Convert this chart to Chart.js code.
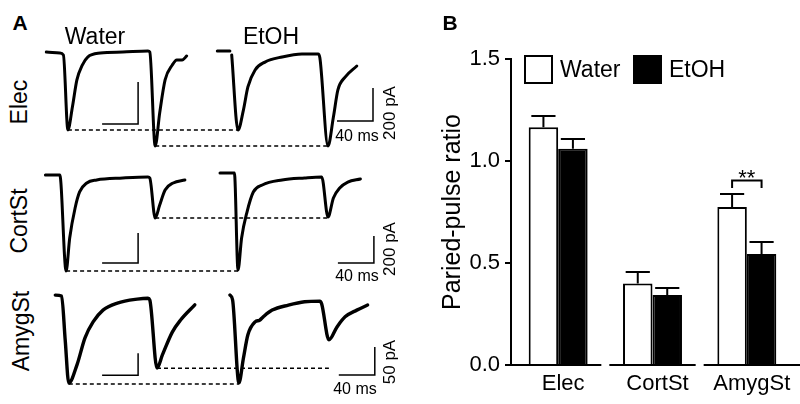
<!DOCTYPE html>
<html><head><meta charset="utf-8">
<script src="https://cdn.jsdelivr.net/npm/chart.js@4.4.1/dist/chart.umd.min.js"></script>
<style>
html,body{margin:0;padding:0;background:#fff;}
#wrap{position:relative;width:800px;height:404px;overflow:hidden;font-family:"Liberation Sans",Arial,sans-serif;color:#000;background:#fff;}
canvas{position:absolute;}
.t{position:absolute;transform:translate(-50%,-50%);line-height:1;white-space:nowrap;}
.r{transform:translate(-50%,-50%) rotate(-90deg);}
.b{font-weight:bold;}
</style></head><body>
<div id="wrap">
  <canvas id="rowElec" width="360" height="112" style="left:40px;top:40px"></canvas>
  <canvas id="rowCort" width="360" height="120" style="left:40px;top:160px"></canvas>
  <canvas id="rowAmyg" width="360" height="112" style="left:40px;top:284px"></canvas>
  <canvas id="pprChart" width="380" height="404" style="left:420px;top:0px"></canvas>

  <div class="t b" style="left:20px;top:22px;font-size:21px">A</div>
  <div class="t b" style="left:450px;top:22px;font-size:21px">B</div>
  <div class="t" style="left:95px;top:36px;font-size:23px">Water</div>
  <div class="t" style="left:271px;top:36px;font-size:23px">EtOH</div>
  <div class="t r" style="left:19px;top:102px;font-size:23px">Elec</div>
  <div class="t r" style="left:19px;top:221px;font-size:23px">CortSt</div>
  <div class="t r" style="left:21px;top:331px;font-size:23px">AmygSt</div>
  <div class="t" style="left:357px;top:136px;font-size:16px">40 ms</div>
  <div class="t" style="left:357px;top:276px;font-size:16px">40 ms</div>
  <div class="t" style="left:355px;top:389px;font-size:16px">40 ms</div>
  <div class="t r" style="left:389px;top:113px;font-size:17px">200 pA</div>
  <div class="t r" style="left:389px;top:249px;font-size:17px">200 pA</div>
  <div class="t r" style="left:389px;top:362px;font-size:17px">50 pA</div>
</div>
<script>
const FONT = '"Liberation Sans", Arial, sans-serif';

// ---------- Panel A: traces (time in ms, current in pA relative to baseline) ----------
const elecWaterT = [7,22,26,31,36,41,47,53,67,92,120,122,128,133,139,147,152,158,163];
const elecWaterI = [0,-5,-14,-371,-262,-133,-62,-24,-5,0,5,0,-448,-290,-133,-62,-38,-38,-19];
const elecEtohT  = [197,211,212,213,220,226,231,239,250,269,291,309,311,320,326,331,339,352];
const elecEtohI  = [6,6,null,-18,-473,-352,-212,-109,-61,-30,-12,-12,-36,-570,-394,-230,-152,-85];

const cortWaterT = [6,22,29,33,39,44,52,63,92,120,122,128,133,139,148,161];
const cortWaterI = [0,0,-640,-420,-220,-113,-53,-33,-20,-13,-20,-287,-200,-100,-53,-33];
const cortEtohT  = [200,216,220,224,230,237,247,269,294,313,320,326,333,342,356];
const cortEtohI  = [0,0,-719,-481,-289,-141,-89,-52,-37,-30,-326,-185,-111,-67,-44];

const amygWaterT = [17,24,28,32,41,50,59,70,86,108,120,122,130,136,147,156,172];
const amygWaterI = [2,0,-100,-198,-157,-95,-59,-32,-16,-7,-5,-9,-164,-134,-82,-55,-20];
const amygEtohT  = [211,214,221,226,231,239,244,248,258,276,294,311,313,321,330,339,352,364];
const amygEtohI  = [0,-9,-157,-113,-71,-48,-45,-39,-27,-18,-12,-11,-16,-80,-57,-39,-27,-18];

// peak reference lines: [t start, t end, level pA (Water scale)]
const elecDash = [[31,220,-371],[128,320,-448]];
const cortDash = [[29,220,-640],[128,320,-287]];
const amygDash = [[32,221,-200],[130,321,-164]];

// scale bars
const scaleBarMs = 40;
const elecBarPA = 200, cortBarPA = 200, amygBarPA = 50;

// ---------- Panel B: paired-pulse ratio ----------
const categories = ['Elec','CortSt','AmygSt'];
const waterPPR = [1.165, 0.40, 0.775];
const waterSEM = [0.055, 0.056, 0.063];
const etohPPR  = [1.06, 0.343, 0.544];
const etohSEM  = [0.048, 0.035, 0.059];
const yTicks = [0, 0.5, 1.0, 1.5];
const sigIndex = 2;
const sigLevel = [0.868, 0.905];
const sigText = '**';

// ---------- layout (positions only) ----------
const rows = [
  {id:'rowElec', top:40,  h:112, baseW:52,  baseE:52,  kW:42/200, kE:33/200,
   tW:elecWaterT, iW:elecWaterI, tE:elecEtohT, iE:elecEtohI, dash:elecDash, barPA:elecBarPA,
   cornerW:[109,-343], cornerE:[370,-418], lw:3},
  {id:'rowCort', top:160, h:120, baseW:175, baseE:173, kW:30/200, kE:27/200,
   tW:cortWaterT, iW:cortWaterI, tE:cortEtohT, iE:cortEtohI, dash:cortDash, barPA:cortBarPA,
   cornerW:[109,-587], cornerE:[371,-667], lw:3},
  {id:'rowAmyg', top:284, h:112, baseW:296, baseE:295, kW:22/50, kE:28/50,
   tW:amygWaterT, iW:amygWaterI, tE:amygEtohT, iE:amygEtohI, dash:amygDash, barPA:amygBarPA,
   cornerW:[109,-180], cornerE:[372,-143], lw:3.4},
];

function xy(T, I){ return T.map((t,i)=>({x:t, y:I[i]})); }
const lineBase = {borderColor:'#000', pointRadius:0, fill:false, tension:0, spanGaps:false};

rows.forEach(r=>{
  const yW = {type:'linear', display:false, min:-(r.top+r.h-r.baseW)/r.kW, max:(r.baseW-r.top)/r.kW};
  const yE = {type:'linear', display:false, min:-(r.top+r.h-r.baseE)/r.kE, max:(r.baseE-r.top)/r.kE};
  const cw = r.cornerW, ce = r.cornerE;
  const datasets = [
    Object.assign({}, lineBase, {data:xy(r.tW,r.iW), yAxisID:'yW', borderWidth:r.lw, cubicInterpolationMode:'monotone', borderJoinStyle:'round', borderCapStyle:'round'}),
    Object.assign({}, lineBase, {data:xy(r.tE,r.iE), yAxisID:'yE', borderWidth:r.lw, cubicInterpolationMode:'monotone', borderJoinStyle:'round', borderCapStyle:'round'}),
    ...r.dash.map(d=>Object.assign({}, lineBase, {data:[{x:d[0],y:d[2]},{x:d[1],y:d[2]}], yAxisID:'yW', borderWidth:1.5, borderDash:[4,3]})),
    Object.assign({}, lineBase, {data:[{x:cw[0],y:cw[1]+r.barPA},{x:cw[0],y:cw[1]},{x:cw[0]-scaleBarMs,y:cw[1]}], yAxisID:'yW', borderWidth:1.5}),
    Object.assign({}, lineBase, {data:[{x:ce[0],y:ce[1]+r.barPA},{x:ce[0],y:ce[1]},{x:ce[0]-scaleBarMs,y:ce[1]}], yAxisID:'yE', borderWidth:1.5}),
  ];
  new Chart(document.getElementById(r.id), {
    type:'line',
    data:{datasets},
    options:{
      responsive:false, animation:false, events:[], devicePixelRatio:1,
      layout:{padding:0},
      scales:{x:{type:'linear', display:false, min:0, max:400}, yW, yE},
      plugins:{legend:{display:false}, tooltip:{enabled:false}}
    }
  });
});

// ---------- Panel B plugins ----------
const errorBars = {
  id:'errorBars',
  afterDatasetsDraw(chart){
    const {ctx} = chart, y = chart.scales.y;
    const sems = [waterSEM, etohSEM];
    ctx.save(); ctx.strokeStyle='#000'; ctx.lineWidth=2;
    chart.data.datasets.forEach((ds,d)=>{
      chart.getDatasetMeta(d).data.forEach((el,i)=>{
        const top = y.getPixelForValue(ds.data[i] + sems[d][i]);
        const half = el.width*0.41;
        ctx.beginPath();
        ctx.moveTo(el.x, el.y); ctx.lineTo(el.x, top);
        ctx.moveTo(el.x-half, top); ctx.lineTo(el.x+half, top);
        ctx.stroke();
      });
    });
    ctx.restore();
  }
};
const brokenAxis = {
  id:'brokenAxis',
  afterDraw(chart){
    const {ctx, chartArea} = chart, x = chart.scales.x;
    const w = x.width / categories.length, yb = chartArea.bottom;
    ctx.save(); ctx.strokeStyle='#000'; ctx.lineWidth=2;
    categories.forEach((c,i)=>{
      const cx = x.getPixelForValue(i);
      let a = cx - w/2 + 4, b = cx + w/2 - 4;
      if(i===0) a = chartArea.left - 6;
      if(i===categories.length-1) b = chart.width;
      ctx.beginPath(); ctx.moveTo(a,yb); ctx.lineTo(b,yb); ctx.stroke();
    });
    ctx.restore();
  }
};
const sigBracket = {
  id:'sigBracket',
  afterDatasetsDraw(chart){
    const {ctx} = chart, y = chart.scales.y;
    const a = chart.getDatasetMeta(0).data[sigIndex], b = chart.getDatasetMeta(1).data[sigIndex];
    const yB = y.getPixelForValue(sigLevel[0]), yT = y.getPixelForValue(sigLevel[1]);
    ctx.save(); ctx.strokeStyle='#000'; ctx.lineWidth=2;
    ctx.beginPath(); ctx.moveTo(a.x,yB); ctx.lineTo(a.x,yT); ctx.lineTo(b.x,yT); ctx.lineTo(b.x,yB); ctx.stroke();
    ctx.fillStyle='#000'; ctx.font='22px '+FONT; ctx.textAlign='center'; ctx.textBaseline='alphabetic';
    ctx.fillText(sigText, (a.x+b.x)/2, yT+5);
    ctx.restore();
  }
};
const legendBoxes = {
  id:'legendBoxes',
  afterDraw(chart){
    const {ctx} = chart; const xs=[104,213], y0=55, s=29;
    ctx.save();
    chart.data.datasets.forEach((ds,i)=>{
      ctx.fillStyle = ds.backgroundColor; ctx.fillRect(xs[i], y0, s, s);
      ctx.strokeStyle='#000'; ctx.lineWidth=2; ctx.strokeRect(xs[i]+1, y0+1, s-2, s-2);
      ctx.fillStyle='#000'; ctx.font='23px '+FONT; ctx.textAlign='left'; ctx.textBaseline='middle';
      ctx.fillText(ds.label, xs[i]+s+7, y0+s/2+1);
    });
    ctx.restore();
  }
};

new Chart(document.getElementById('pprChart'), {
  type:'bar',
  data:{labels:categories, datasets:[
    {label:'Water', data:waterPPR, backgroundColor:'#fff', borderColor:'#000', borderWidth:2, borderSkipped:'start'},
    {label:'EtOH', data:etohPPR, backgroundColor:'#000', borderColor:'#000', borderWidth:2, borderSkipped:'start'}
  ]},
  options:{
    responsive:false, animation:false, events:[], devicePixelRatio:1,
    layout:{padding:{left:18, right:6, top:59, bottom:0}},
    datasets:{bar:{barPercentage:1, categoryPercentage:0.625}},
    scales:{
      x:{grid:{display:false, drawTicks:false}, border:{display:false},
         ticks:{color:'#000', font:{family:FONT, size:22}, padding:6, labelOffset:5},
         afterFit:s=>{s.height=39;}},
      y:{min:0, max:1.5,
         afterBuildTicks:s=>{s.ticks = yTicks.map(v=>({value:v}));},
         ticks:{color:'#000', font:{family:FONT, size:22}, padding:5, callback:v=>Number(v).toFixed(1)},
         grid:{drawOnChartArea:false, color:'#000', lineWidth:2, tickLength:6},
         border:{display:true, color:'#000', width:2},
         title:{display:true, text:'Paried-pulse ratio', color:'#000', font:{family:FONT, size:25}, padding:0},
         afterFit:s=>{s.width=73;}}
    },
    plugins:{legend:{display:false}, tooltip:{enabled:false}}
  },
  plugins:[errorBars, brokenAxis, sigBracket, legendBoxes]
});
</script>
</body></html>
